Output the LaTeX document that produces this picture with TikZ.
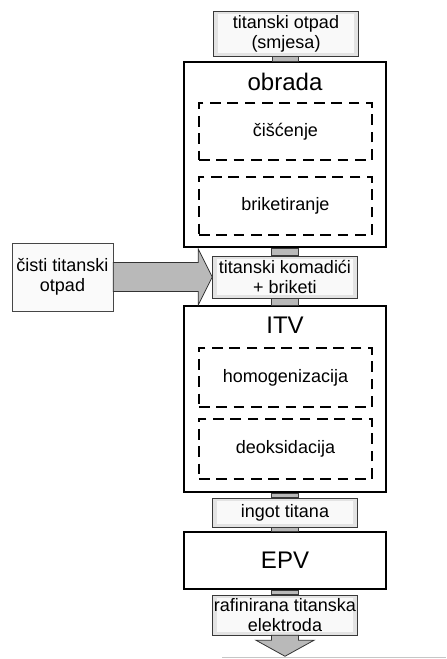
\documentclass[tikz,border=0pt]{standalone}
\usepackage{fontspec}
\setmainfont{Liberation Sans}
\begin{document}
\begin{tikzpicture}[x=0.75pt,y=0.75pt,
  stage/.style={draw=black, line width=1.4pt, minimum width=151.5pt, inner sep=0pt},
  substage/.style={draw=black, line width=1.3pt, dash pattern=on 8pt off 5pt,
    minimum width=129.75pt, inner sep=0pt, font=\fontsize{13.5}{15}\selectfont},
  product/.style={draw=gray!45!black, fill=gray!22, minimum width=108.75pt,
    inner sep=0pt, align=center, font=\fontsize{13.5}{15}\selectfont,
    path picture={\fill[gray!5] ([shift={(3.5pt,-2pt)}]path picture bounding box.north west)
      rectangle ([shift={(-3.5pt,2pt)}]path picture bounding box.south east);}},
  stub/.style={fill=gray!55, draw=gray!45!black, line width=0.4pt},
  flow/.style={fill=gray!55, draw=gray!40!black, line width=0.6pt},
  title/.style={font=\fontsize{18}{20}\selectfont}]
\useasboundingbox (0,0) rectangle (446,659);

% Input material
\node[product, minimum height=33.75pt] (in) at (286,625.5) {titanski otpad\\(smjesa)};

% Treatment stage
\node[stage, minimum height=138.75pt] (obrada) at (285,504.5) {};
\node[title] (obradatitle) at (285,577) {obrada};
\node[substage, minimum height=42.75pt] (ciscenje) at (285.5,527.5) {čišćenje};
\node[substage, minimum height=43.5pt] (briket) at (285.5,453) {briketiranje};

% Intermediate product and clean scrap
\node[product, minimum height=31.5pt] (kom) at (285,382) {titanski komadići\\+ briketi};
\node[draw=gray!55!black, fill=gray!4, minimum width=75.75pt, minimum height=51pt,
  inner sep=0pt, align=center, font=\fontsize{13.5}{15}\selectfont]
  (cisti) at (62.5,382) {čisti titanski\\otpad};

% ITV stage
\node[stage, minimum height=139.5pt] (itv) at (285,260) {};
\node[title] (itvtitle) at (285,334) {ITV};
\node[substage, minimum height=44.25pt] (homog) at (285.5,281.5) {homogenizacija};
\node[substage, minimum height=45pt] (deoks) at (285.5,210) {deoksidacija};

% Ingot and EPV
\node[product, minimum height=21.75pt] (ingot) at (285,146.5) {ingot titana};
\node[stage, minimum height=42.75pt, title] (epv) at (285,98.5) {EPV};
\node[product, minimum height=30pt] (raf) at (285,44) {rafinirana titanska\\elektroda};

% Connectors
\draw[stub] ([xshift=-10.1pt]in.south) rectangle ([xshift=10.1pt]obrada.north);
\draw[stub] ([xshift=-10.1pt]obrada.south) rectangle ([xshift=10.1pt]kom.north);
\draw[stub] ([xshift=-10.1pt]kom.south) rectangle ([xshift=10.1pt]itv.north);
\draw[stub] ([xshift=-10.1pt]itv.south) rectangle ([xshift=10.1pt]ingot.north);
\draw[stub] ([xshift=-10.1pt]ingot.south) rectangle ([xshift=10.1pt]epv.north);
\draw[stub] ([xshift=-10.1pt]epv.south) rectangle ([xshift=10.1pt]raf.north);

% Clean scrap arrow
\draw[flow] ([yshift=10.9pt]cisti.east) -- ([xshift=-10.5pt,yshift=10.9pt]kom.west)
  -- ([xshift=-10.5pt,yshift=21pt]kom.west) -- (kom.west)
  -- ([xshift=-10.5pt,yshift=-21pt]kom.west) -- ([xshift=-10.5pt,yshift=-10.9pt]kom.west)
  -- ([yshift=-10.9pt]cisti.east) -- cycle;

% Output arrow
\coordinate (out) at ([yshift=-15.75pt]raf.south);
\draw[flow] ([xshift=-10.1pt]raf.south) -- ([xshift=-10.1pt,yshift=-3.75pt]raf.south)
  -- ([xshift=-21.75pt,yshift=-3.75pt]raf.south) -- (out)
  -- ([xshift=21.75pt,yshift=-3.75pt]raf.south) -- ([xshift=10.1pt,yshift=-3.75pt]raf.south)
  -- ([xshift=10.1pt]raf.south) -- cycle;
\draw[gray!45] (222,1.5) -- (446,1.5);
\end{tikzpicture}
\end{document}
